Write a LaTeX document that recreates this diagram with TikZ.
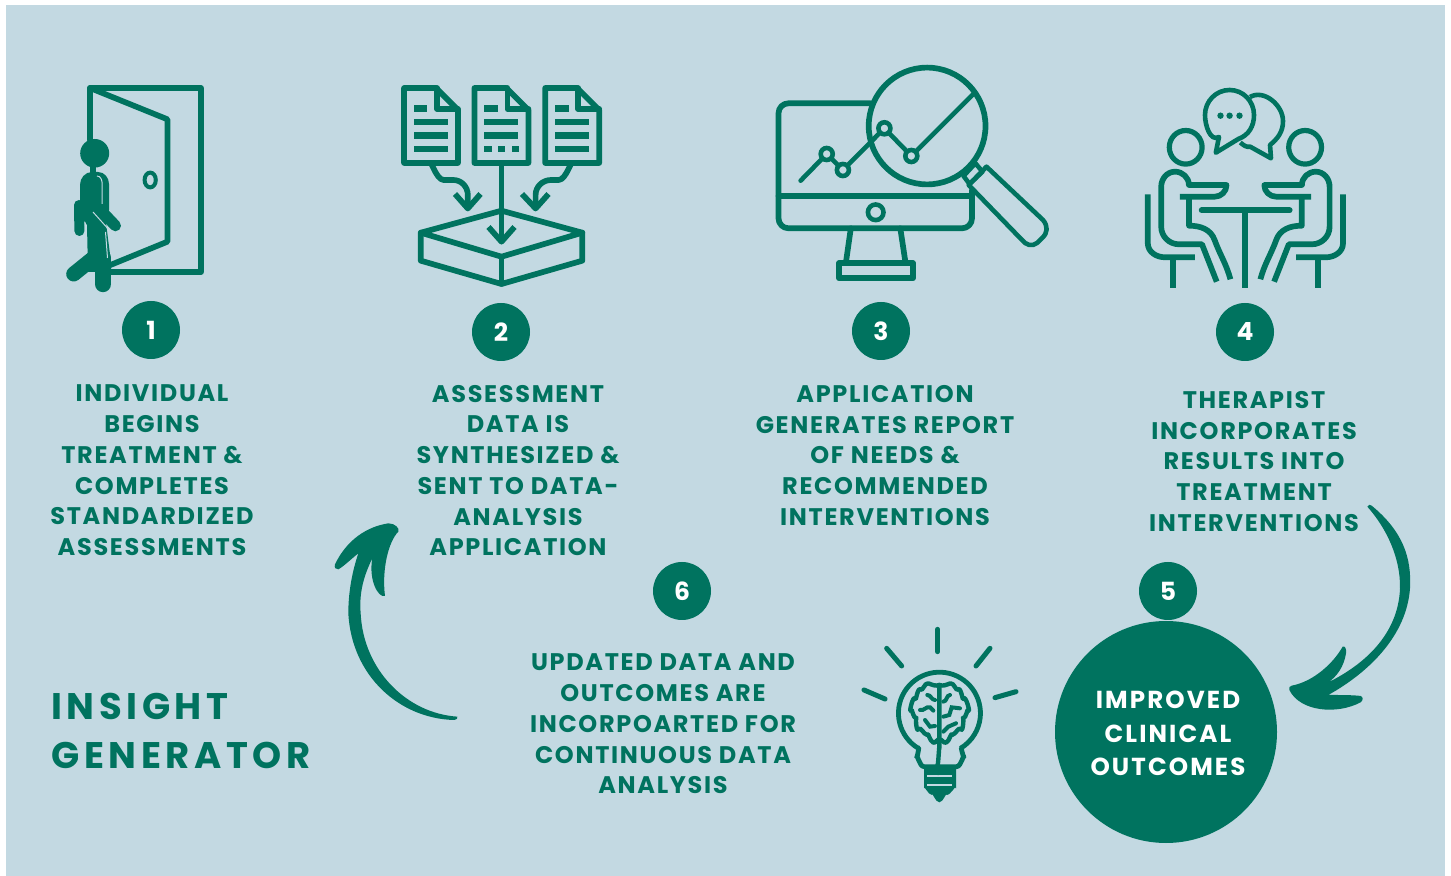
\documentclass[tikz,border=0pt]{standalone}
\usepackage{fontspec}
\setmainfont{Poppins}
\newfontfamily\labelfont[LetterSpace=7]{Poppins}
\newfontfamily\disclabelfont[LetterSpace=8.5]{Poppins}
\newfontfamily\titlefont[LetterSpace=12.3]{Poppins}
\definecolor{bgblue}{HTML}{C3D9E2}
\definecolor{deepgreen}{HTML}{00735F}
\tikzset{
  ico/.style={draw=deepgreen,line width=2.85pt,line join=round,line cap=round,fill=none},
  icob/.style={ico,line cap=butt},
  thin ico/.style={draw=deepgreen,line width=2.3pt,line join=round,line cap=round},
  numdisc/.style={circle,fill=deepgreen,minimum size=29pt,inner sep=0pt,text=white,font=\fontsize{12.5}{14}\selectfont\bfseries},
  steptext/.style={align=center,text=deepgreen,inner sep=0pt,font=\fontsize{12}{15.38}\selectfont\labelfont\bfseries},
  disctext/.style={align=center,text=white,inner sep=0pt,font=\fontsize{12.3}{16.7}\selectfont\disclabelfont\bfseries},
  titletext/.style={anchor=west,text=deepgreen,inner sep=0pt,font=\fontsize{18.5}{20}\selectfont\titlefont\bfseries},
}
\begin{document}
\begin{tikzpicture}[x=0.5pt,y=-0.5pt]
\useasboundingbox (0,0) rectangle (1451,876);
\fill[white] (0,0) rectangle (1451,876);
\fill[bgblue] (6,5) rectangle (1445,876);

% ---- door and walker
\draw[ico] (90,140) -- (90,88) -- (200.7,88) -- (200.7,272) -- (108,272);
\draw[ico] (90,88) -- (167.4,119.3) -- (167.4,241.7) -- (108,266);
\draw[deepgreen,line width=2pt] (150.2,180) ellipse [x radius=5.6,y radius=7.4];
\fill[deepgreen] (94.7,153.3) ellipse [x radius=14.5,y radius=14.3];
\fill[deepgreen] (90,165) rectangle (96,176);
\fill[deepgreen] (80,185) to[out=90,in=180] (92,172) -- (98,172) to[out=0,in=90] (109,184) -- (109,210) -- (106,223) -- (111,262) -- (111,272) -- (88,272) -- (87,225) -- (80,215) -- cycle;
\draw[deepgreen,line width=5.6pt,line cap=round] (97.4,206.7) -- (115.4,225.7);
\draw[deepgreen,line width=5pt,line cap=round] (79,205) -- (79.4,231);
\draw[deepgreen,line width=7.5pt,line cap=round] (96,256) -- (73.7,274);
\draw[deepgreen,line width=8.2pt,line cap=round] (103,258) -- (103,284);
\draw[bgblue,line width=.5pt] (97,176) to[out=0,in=90] (102.2,184) -- (102,204);
\draw[bgblue,line width=.5pt] (93,212) -- (110,231);
\draw[bgblue,line width=.5pt] (105.5,232) -- (107.5,258);
\draw[bgblue,line width=.4pt] (85,222) -- (86,232);

% ---- three documents and box
\foreach \dx in {0,70.4,141.2} {
  \begin{scope}[xshift=\dx*0.5pt]
    \draw[ico] (404,88) -- (436,88) -- (458,110) -- (458,163) -- (404,163) -- cycle;
    \draw[ico] (437,88) -- (437,109) -- (458,109);
    \fill[deepgreen] (413.5,105.5) rectangle (427.3,112);
    \fill[deepgreen] (413.5,118.7) rectangle (447.6,125.3);
    \fill[deepgreen] (413.5,132.4) rectangle (447.6,139);
  \end{scope}
}
\fill[deepgreen] (413.5,145.8) rectangle (447.6,152.3);
\fill[deepgreen] (554.7,145.8) rectangle (588.8,152.3);
\foreach \xa/\xb in {484.3/491.5,498/505,511.5/518.5} \fill[deepgreen] (\xa,145.8) rectangle (\xb,152.3);
\draw[icob] (430.4,165) to[out=90,in=180] (443.7,180) -- (453.3,180) to[out=0,in=90] (467.8,195) -- (467.8,207);
\draw[icob] (572,165) to[out=90,in=0] (558.6,180) -- (551,180) to[out=180,in=90] (535.6,195) -- (535.6,207);
\draw[icob] (501.5,165) -- (501.5,240);
\draw[icob] (455,194) -- (467.8,208.5) -- (480.5,194);
\draw[icob] (522,194) -- (535.6,208.5) -- (548.5,194);
\draw[icob] (488.5,227) -- (501.5,241.7) -- (514.5,227);
\draw[ico] (501.5,210.7) -- (420.8,232.7) -- (501.5,256.7) -- (582.3,232.7) -- cycle;
\draw[ico] (420.8,232.7) -- (420.8,260.7) -- (501.5,284) -- (582.3,260.7) -- (582.3,232.7);
\draw[ico] (501.5,256.7) -- (501.5,284);

% ---- monitor and magnifier
\draw[ico] (870.6,103.3) -- (788.5,103.3) to[out=180,in=90] (778.5,113.3) -- (778.5,218.3) to[out=270,in=180] (788.5,228.3) -- (962,228.3) to[out=0,in=270] (972,218.3) -- (972,190);
\draw[ico] (778.5,196) -- (971.4,196);
\draw[deepgreen,line width=2.3pt] (875.7,212.3) circle [radius=7.8];
\draw[ico] (850.8,228.3) -- (846,262);
\draw[ico] (900.3,228.3) -- (905.4,262);
\draw[ico] (839,263.3) rectangle (913,278.3);
\draw[ico] (927.1,126) circle [radius=58.4];
\draw[thin ico] (800.6,180.7) -- (826.7,154) -- (842.9,170) -- (884.4,128.3) -- (911.3,156) -- (974.6,92.7);
\foreach \cx/\cy in {826.7/154,842.9/170,884.4/128.3,911.3/156}
  \draw[deepgreen,line width=2.3pt,fill=bgblue] (\cx,\cy) circle [radius=6];
\draw[thin ico] (963.5,176) -- (975.4,163.3) -- (982.5,171.7) -- (969.5,184) -- cycle;
\draw[thin ico] (968.7,185) -- (986.5,166.7) -- (1043,220) .. controls (1048,226) and (1048,233) .. (1042,238) -- (1037,243) .. controls (1032,247) and (1026,245) .. (1022,240) -- cycle;

% ---- therapist and client
\draw[deepgreen,line width=2.3pt,line join=round] (1219,137) to[out=210,in=270] (1205,115) to[out=90,in=180] (1229.6,90) to[out=0,in=90] (1254,115) to[out=270,in=20] (1238.3,139) -- (1215.8,152.7) -- cycle;
\draw[deepgreen,line width=2.3pt,line join=round] (1250,97) to[out=30,in=90] (1283,121) to[out=270,in=40] (1270,145) -- (1271,158.3) -- (1250.2,146.7) to[out=190,in=320] (1240.3,142.5);
\foreach \cx in {1220.5,1229.6,1239.5} \fill[deepgreen] (\cx,115.7) circle [radius=3.2];
\draw[ico] (1201.6,210.3) -- (1289.7,210.3);
\draw[icob] (1245,210) -- (1245,288.5);
\foreach \mir in {0,1} {
  \begin{scope}[shift={(2490.8*\mir,0)},xscale=1-2*\mir]
    \draw[deepgreen,line width=2.6pt] (1185.7,147.3) ellipse [x radius=16.4,y radius=16.8];
    \draw[icob] (1216.7,281.7) -- (1202,244.3) -- (1179,244.3) to[out=180,in=270] (1161.2,226.7) -- (1161.2,186.7) to[out=90,in=180] (1175,171.7) to[out=0,in=90] (1188.9,185) -- (1226.5,185) to[out=270,in=0] (1214.6,196.7) -- (1179.8,196.7);
    \draw[icob] (1189,196.7) -- (1189,225.7) to[out=0,in=110] (1214.6,240) to[out=290,in=105] (1230.4,279.3);
    \draw[icob] (1147.8,194.3) -- (1147.8,243.3) to[out=270,in=180] (1165,257.3) -- (1194.8,257.3);
    \draw[icob] (1173,257.3) -- (1173,288.3);
  \end{scope}
}

% ---- number discs
\node[numdisc] (n1) at (151,330) {1};
\node[numdisc] (n2) at (501,332) {2};
\node[numdisc] (n3) at (881,331) {3};
\node[numdisc] (n4) at (1245,332) {4};
\node[numdisc] (n5) at (1168,591) {5};
\node[numdisc] (n6) at (682,591) {6};

% ---- texts
\node[steptext] (t1) at (152,470.5) {INDIVIDUAL\\BEGINS\\TREATMENT \&\\COMPLETES\\STANDARDIZED\\ASSESSMENTS};
\node[steptext] (t2) at (518,470.5) {ASSESSMENT\\DATA IS\\SYNTHESIZED \&\\SENT TO DATA-\\ANALYSIS\\APPLICATION};
\node[steptext] (t3) at (885,455.5) {APPLICATION\\GENERATES REPORT\\OF NEEDS \&\\RECOMMENDED\\INTERVENTIONS};
\node[steptext] (t4) at (1254,461.5) {THERAPIST\\INCORPORATES\\RESULTS INTO\\TREATMENT\\INTERVENTIONS};
\node[steptext] (t6) at (663,724) {UPDATED DATA AND\\OUTCOMES ARE\\INCORPOARTED FOR\\CONTINUOUS DATA\\ANALYSIS};
\node[circle,fill=deepgreen,minimum size=111pt,inner sep=0pt] (big) at (1166,732) {};
\node[disctext] (t5) at (1168,733.5) {IMPROVED\\CLINICAL\\OUTCOMES};
\node[titletext] (title1) at (51,706) {INSIGHT};
\node[titletext] (title2) at (51,755) {GENERATOR};

% ---- lightbulb
\begin{scope}[shift={(850,620)},scale=0.3333]
  \draw[deepgreen,line width=2.5pt,line cap=round] (263,28) -- (263,95);
  \draw[deepgreen,line width=2.5pt,line cap=round] (110,85) -- (155,138);
  \draw[deepgreen,line width=2.5pt,line cap=round] (420,85) -- (378,138);
  \draw[deepgreen,line width=2.5pt,line cap=round] (42,210) -- (105,237);
  \draw[deepgreen,line width=2.5pt,line cap=round] (498,215) -- (435,233);
  \draw[deepgreen,line width=2.4pt,line join=round] (205,385) to[out=65,in=270] (200,410) to[out=90,in=180] (222,440) -- (320,440) to[out=0,in=90] (342,410) to[out=270,in=115] (335,385);
  \draw[deepgreen,line width=2.4pt] (205,385) arc[start angle=121,end angle=419,radius=123];
  \fill[deepgreen] (222,445) -- (318,445) -- (318,505) to[out=90,in=0] (290,525) to[out=90,in=0] (268,547) to[out=180,in=90] (246,525) to[out=180,in=90] (222,505) -- cycle;
  \draw[bgblue,line width=1.4pt] (232,468) -- (306,468);
  \draw[bgblue,line width=1.4pt] (232,495) -- (306,495);
  \draw[deepgreen,line width=2.2pt,line join=round,line cap=round] (268,195) to[out=200,in=340] (235,190) to[out=160,in=290] (212,208) to[out=140,in=270] (197,235) to[out=130,in=250] (182,270) to[out=70,in=190] (200,295) to[out=110,in=240] (205,328) to[out=60,in=170] (232,345) to[out=80,in=160] (250,368) to[out=340,in=130] (268,360);
  \draw[deepgreen,line width=2.2pt,line join=round,line cap=round] (268,195) to[out=340,in=200] (301,190) to[out=20,in=250] (324,208) to[out=40,in=270] (339,235) to[out=50,in=290] (356,270) to[out=110,in=350] (338,295) to[out=70,in=300] (333,328) to[out=120,in=10] (306,345) to[out=100,in=20] (288,368) to[out=200,in=50] (268,360);
  \draw[deepgreen,line width=2.2pt,line cap=round] (268,195) -- (268,385) to[out=90,in=275] (262,435);
  \draw[deepgreen,line width=2pt,line cap=round] (232,225) to[out=0,in=180] (255,240);
  \draw[deepgreen,line width=2pt,line cap=round] (210,270) to[out=340,in=160] (240,262) -- (250,272);
  \draw[deepgreen,line width=2pt,line cap=round] (225,300) -- (240,320) -- (255,318);
  \draw[deepgreen,line width=2pt,line cap=round] (300,225) to[out=180,in=0] (280,245);
  \draw[deepgreen,line width=2pt,line cap=round] (330,265) -- (305,262) -- (298,285) -- (280,290);
  \draw[deepgreen,line width=2pt,line cap=round] (318,310) -- (295,320) -- (280,335);
\end{scope}

% ---- curved arrows
\begin{scope}[shift={(320,510)},scale=0.3333]
  \fill[deepgreen] (412,620) .. controls (415,624) and (410,630) .. (400,630)
    .. controls (240,625) and (95,500) .. (85,310)
    .. controls (85,250) and (95,190) .. (115,130)
    .. controls (90,150) and (70,170) .. (55,178)
    .. controls (47,180) and (42,172) .. (45,163)
    .. controls (80,90) and (140,50) .. (205,40)
    .. controls (225,40) and (240,55) .. (235,65)
    .. controls (205,95) and (185,180) .. (195,258)
    .. controls (175,265) and (145,210) .. (157,145)
    .. controls (125,210) and (118,260) .. (122,310)
    .. controls (130,480) and (260,610) .. (412,620) -- cycle;
\end{scope}
\begin{scope}[shift={(1270,495)},scale=0.3333]
  \fill[deepgreen] (292,35) .. controls (295,28) and (300,28) .. (305,32)
    .. controls (400,110) and (425,190) .. (420,280)
    .. controls (410,420) and (300,530) .. (175,600)
    .. controls (210,600) and (250,600) .. (272,603)
    .. controls (280,607) and (280,615) .. (272,622)
    .. controls (200,660) and (90,650) .. (58,585)
    .. controls (55,578) and (60,573) .. (65,572)
    .. controls (130,560) and (190,505) .. (218,455)
    .. controls (225,452) and (230,462) .. (228,475)
    .. controls (222,515) and (200,545) .. (175,562)
    .. controls (280,510) and (385,420) .. (390,280)
    .. controls (392,190) and (350,100) .. (292,35) -- cycle;
\end{scope}
\end{tikzpicture}
\end{document}
